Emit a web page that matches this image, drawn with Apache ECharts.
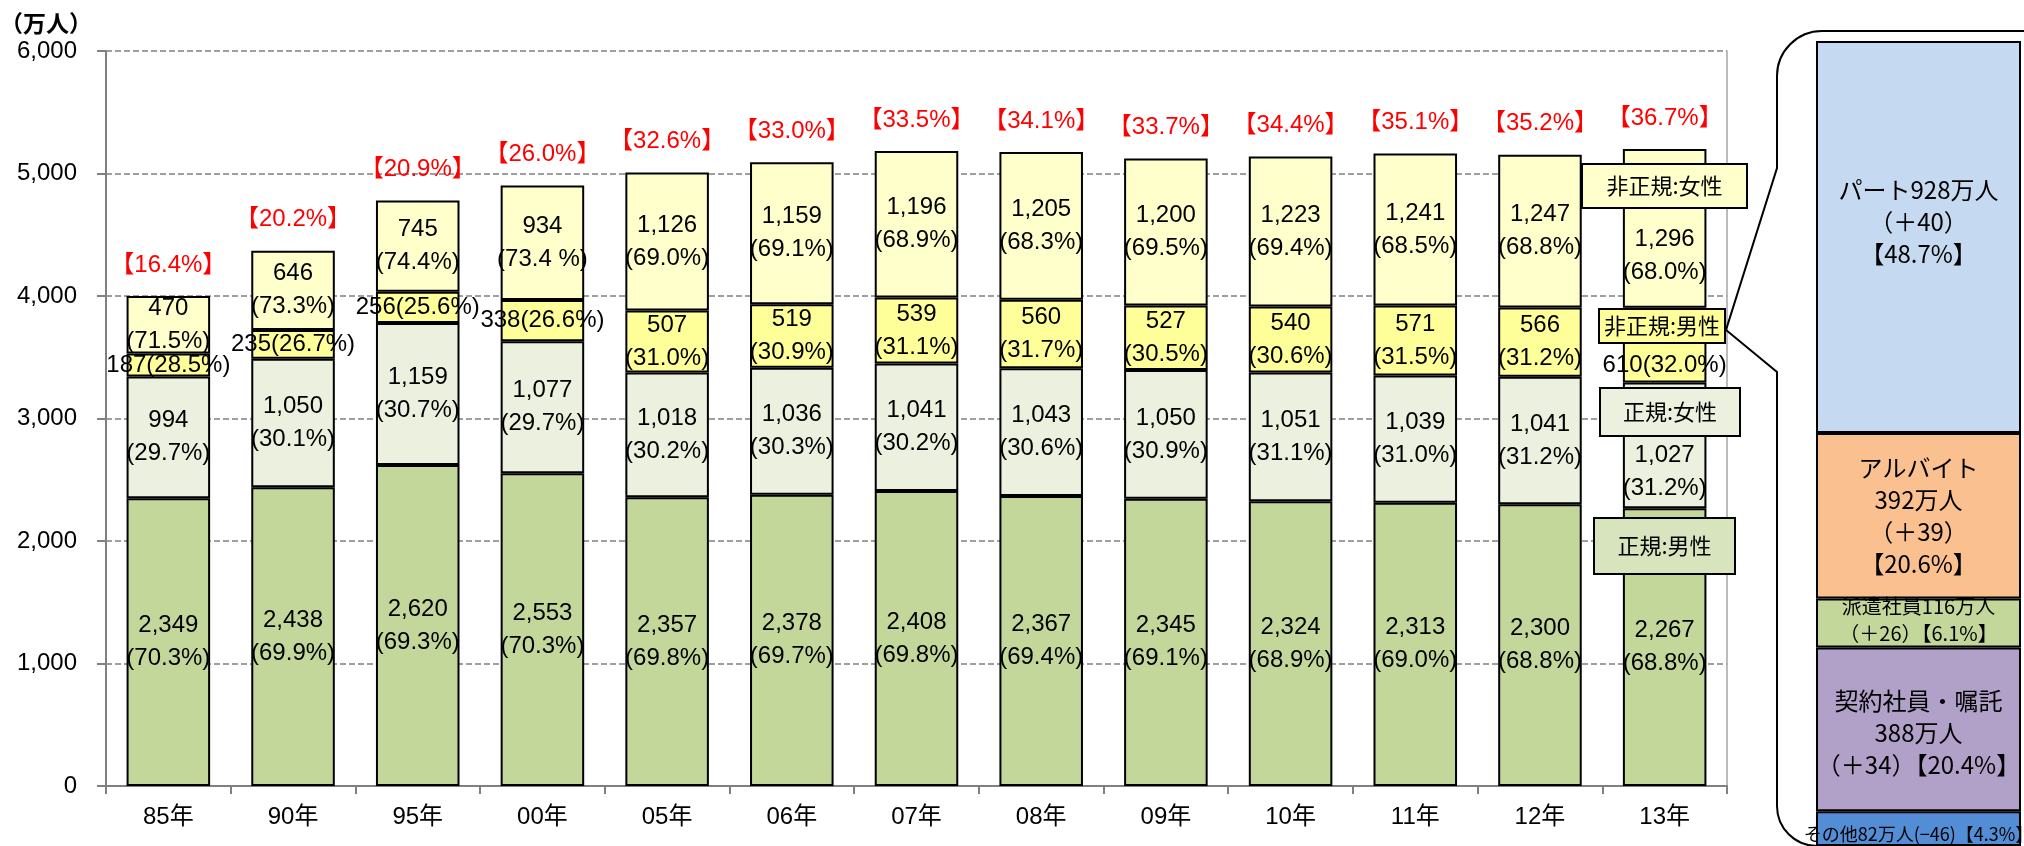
<!DOCTYPE html>
<html lang="ja">
<head>
<meta charset="utf-8">
<title>正規・非正規の雇用者数の推移</title>
<script src="https://cdn.jsdelivr.net/npm/echarts@6/dist/echarts.min.js"></script>
<style>
  html, body { margin: 0; padding: 0; background: #fff; }
  #chart { width: 2024px; height: 846px; }
</style>
</head>
<body>
<div id="chart"></div>
<script>
// 年別の雇用者数（万人）
const years = ['85年', '90年', '95年', '00年', '05年', '06年', '07年', '08年', '09年', '10年', '11年', '12年', '13年']
const regularMale = [2349, 2438, 2620, 2553, 2357, 2378, 2408, 2367, 2345, 2324, 2313, 2300, 2267]
const regularFemale = [994, 1050, 1159, 1077, 1018, 1036, 1041, 1043, 1050, 1051, 1039, 1041, 1027]
const nonRegMale = [187, 235, 256, 338, 507, 519, 539, 560, 527, 540, 571, 566, 610]
const nonRegFemale = [470, 646, 745, 934, 1126, 1159, 1196, 1205, 1200, 1223, 1241, 1247, 1296]

// 構成比（%）
const regularMalePct = ['70.3', '69.9', '69.3', '70.3', '69.8', '69.7', '69.8', '69.4', '69.1', '68.9', '69.0', '68.8', '68.8']
const regularFemalePct = ['29.7', '30.1', '30.7', '29.7', '30.2', '30.3', '30.2', '30.6', '30.9', '31.1', '31.0', '31.2', '31.2']
const nonRegMalePct = ['28.5', '26.7', '25.6', '26.6', '31.0', '30.9', '31.1', '31.7', '30.5', '30.6', '31.5', '31.2', '32.0']
const nonRegFemalePct = ['71.5', '73.3', '74.4', '73.4 ', '69.0', '69.1', '68.9', '68.3', '69.5', '69.4', '68.5', '68.8', '68.0']
// 非正規の割合
const nonRegShare = ['16.4', '20.2', '20.9', '26.0', '32.6', '33.0', '33.5', '34.1', '33.7', '34.4', '35.1', '35.2', '36.7']

const yTicks = [0, 1000, 2000, 3000, 4000, 5000, 6000]

// 13年の非正規の内訳（下から）
const detailNames = ['その他', '契約社員・嘱託', '派遣社員', 'アルバイト', 'パート']
const detailValues = [82, 388, 116, 392, 928]
const detailChanges = ['−46', '＋34', '＋26', '＋39', '＋40']
const detailShares = ['4.3', '20.4', '6.1', '20.6', '48.7']

const NUM_FONT = '"Liberation Sans Narrow", "Liberation Sans", "Noto Sans CJK JP", sans-serif'
const JP_FONT = '"Noto Sans CJK JP", sans-serif'
const FS = 24

const fmt = v => v.toLocaleString('en-US')
const last = years.length - 1

const chart = echarts.init(document.getElementById('chart'))

function mainSeries(name, values, pcts, color, oneLine, lastOffset) {
  return {
    name: name,
    type: 'bar',
    stack: 'total',
    xAxisIndex: 0,
    yAxisIndex: 0,
    barCategoryGap: '33%',
    itemStyle: { color: color, borderColor: '#000', borderWidth: 2 },
    label: {
      show: true,
      position: 'inside',
      color: '#000',
      fontFamily: NUM_FONT,
      fontSize: FS,
      lineHeight: 33,
      formatter: p => oneLine(p.dataIndex)
        ? fmt(values[p.dataIndex]) + '(' + pcts[p.dataIndex] + '%)'
        : fmt(values[p.dataIndex]) + '\n(' + pcts[p.dataIndex] + '%)'
    },
    data: values.map((v, i) => i === last && lastOffset
      ? { value: v, label: { offset: [0, lastOffset] } }
      : v)
  }
}

const series = [
  mainSeries('正規:男性', regularMale, regularMalePct, '#C4D79B', () => false, 0),
  mainSeries('正規:女性', regularFemale, regularFemalePct, '#EBF1DE', () => false, 26),
  mainSeries('非正規:男性', nonRegMale, nonRegMalePct, '#FFFF99', i => i < 4 || i === last, 20),
  mainSeries('非正規:女性', nonRegFemale, nonRegFemalePct, '#FFFFCC', () => false, 27),
  {
    name: '非正規割合',
    type: 'bar',
    stack: 'total',
    xAxisIndex: 0,
    yAxisIndex: 0,
    itemStyle: { color: 'transparent', borderWidth: 0 },
    label: {
      show: true,
      position: 'top',
      distance: 19,
      color: '#FF0000',
      fontFamily: NUM_FONT,
      fontSize: FS,
      lineHeight: 24,
      formatter: p => '【' + nonRegShare[p.dataIndex] + '%】'
    },
    data: years.map(() => 0)
  }
]

// 内訳の積み上げ
const detailLabels = [
  i => detailNames[i] + detailValues[i] + '万人(' + detailChanges[i] + ')【' + detailShares[i] + '%】',
  i => detailNames[i] + '\n' + detailValues[i] + '万人\n（' + detailChanges[i] + '）【' + detailShares[i] + '%】',
  i => detailNames[i] + detailValues[i] + '万人\n（' + detailChanges[i] + '）【' + detailShares[i] + '%】',
  i => detailNames[i] + '\n' + detailValues[i] + '万人\n（' + detailChanges[i] + '）\n【' + detailShares[i] + '%】',
  i => detailNames[i] + detailValues[i] + '万人\n（' + detailChanges[i] + '）\n【' + detailShares[i] + '%】'
]
const detailColors = ['#538DD5', '#B1A0C7', '#C4D79B', '#FAC090', '#C5D9F1']
const detailFont = [
  { fontSize: 18, lineHeight: 22, offset: [0, 5] },
  { fontSize: 24, lineHeight: 32, offset: [0, 3] },
  { fontSize: 20, lineHeight: 27, offset: [0, -3] },
  { fontSize: 24, lineHeight: 32, offset: [0, 0] },
  { fontSize: 24, lineHeight: 32, offset: [0, -15] }
]
detailNames.forEach((n, i) => {
  series.push({
    name: n,
    type: 'bar',
    stack: 'detail',
    xAxisIndex: 1,
    yAxisIndex: 2,
    barCategoryGap: '0%',
    itemStyle: { color: detailColors[i], borderColor: '#000', borderWidth: 2 },
    label: {
      show: true,
      position: 'inside',
      color: '#000',
      fontFamily: JP_FONT,
      fontSize: detailFont[i].fontSize,
      lineHeight: detailFont[i].lineHeight,
      offset: detailFont[i].offset,
      formatter: () => detailLabels[i](i)
    },
    data: [detailValues[i]]
  })
})

const detailTotal = detailValues.reduce((a, b) => a + b, 0)

chart.setOption({
  backgroundColor: '#fff',
  animation: false,
  title: {
    text: '（万人）',
    left: 0,
    top: 12,
    padding: 0,
    textStyle: { fontSize: 23, fontWeight: 'bold', color: '#000', fontFamily: JP_FONT }
  },
  grid: [
    { left: 106, right: 297, top: 51, bottom: 60, outerBoundsMode: 'none' },
    { left: 1816, right: 3, top: 41, bottom: 0, outerBoundsMode: 'none' }
  ],
  xAxis: [
    {
      type: 'category',
      gridIndex: 0,
      data: years,
      axisLine: { lineStyle: { color: '#808080', width: 2 } },
      axisTick: { show: true, length: 8, lineStyle: { color: '#808080', width: 2 } },
      axisLabel: { color: '#000', fontFamily: NUM_FONT, fontSize: FS, margin: 19 },
      splitLine: { show: false }
    },
    {
      type: 'category',
      gridIndex: 1,
      data: ['13年'],
      show: false
    }
  ],
  yAxis: [
    {
      type: 'value',
      gridIndex: 0,
      min: yTicks[0],
      max: yTicks[yTicks.length - 1],
      interval: yTicks[1] - yTicks[0],
      axisLine: { show: true, lineStyle: { color: '#808080', width: 2 } },
      axisTick: { show: true, length: 9, lineStyle: { color: '#808080', width: 2 } },
      axisLabel: { color: '#000', fontFamily: NUM_FONT, fontSize: FS, margin: 29, formatter: v => fmt(v) },
      splitLine: { show: true, lineStyle: { color: '#808080', width: 1.5, type: [6, 3] } }
    },
    {
      type: 'value',
      gridIndex: 0,
      position: 'right',
      min: yTicks[0],
      max: yTicks[yTicks.length - 1],
      axisLine: { show: true, lineStyle: { color: '#A6A6A6', width: 1.5 } },
      axisTick: { show: false },
      axisLabel: { show: false },
      splitLine: { show: false }
    },
    {
      type: 'value',
      gridIndex: 1,
      min: 0,
      max: detailTotal,
      show: false
    }
  ],
  series: series
})

// 13年の凡例ボックスと内訳への吹き出し
const cx = chart.convertToPixel({ xAxisIndex: 0 }, years[last])
const boxes = [
  { text: '非正規:女性', dx: 0, y: 164, w: 165, h: 44, fill: '#FFFFCC' },
  { text: '非正規:男性', dx: -3, y: 309, w: 126, h: 34, fill: '#FFFF99' },
  { text: '正規:女性', dx: 5, y: 388, w: 140, h: 48, fill: '#EBF1DE' },
  { text: '正規:男性', dx: 0, y: 518, w: 141, h: 56, fill: '#D7E4BD' }
]
const graphic = []
boxes.forEach(b => {
  const x0 = Math.round(cx + b.dx - b.w / 2)
  graphic.push({
    type: 'rect',
    z: 100,
    shape: { x: x0, y: b.y, width: b.w, height: b.h },
    style: { fill: b.fill, stroke: '#000', lineWidth: 2 }
  })
  graphic.push({
    type: 'text',
    z: 101,
    x: x0 + b.w / 2,
    y: b.y + b.h / 2,
    style: {
      text: b.text,
      fill: '#000',
      font: '22px ' + JP_FONT,
      align: 'center',
      verticalAlign: 'middle'
    }
  })
})
// 波括弧風の枠
const brace = { stroke: '#000', lineWidth: 2, fill: 'none' }
graphic.push(
  { type: 'polyline', z: 100, shape: { points: [[2030, 31], [1822, 31]] }, style: brace },
  { type: 'arc', z: 100, shape: { cx: 1822, cy: 76, r: 45, startAngle: Math.PI, endAngle: Math.PI * 1.5 }, style: brace },
  { type: 'polyline', z: 100, shape: { points: [[1777, 76], [1777, 168], [1726, 330], [1777, 372], [1777, 806]] }, style: brace },
  { type: 'arc', z: 100, shape: { cx: 1817, cy: 806, r: 40, startAngle: Math.PI / 2, endAngle: Math.PI }, style: brace }
)
chart.setOption({ graphic: graphic })

window.addEventListener('resize', () => chart.resize())
</script>
</body>
</html>
